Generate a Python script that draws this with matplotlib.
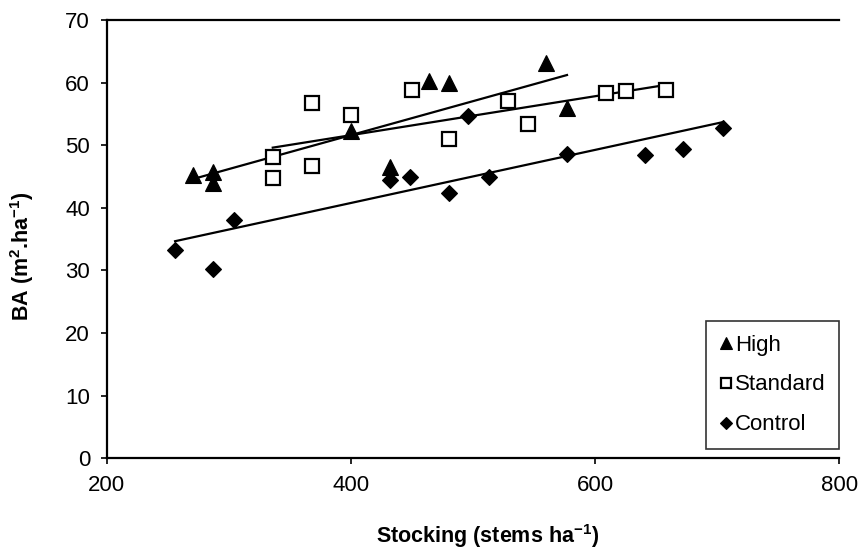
import numpy as np
import matplotlib
matplotlib.use("Agg")
import matplotlib.pyplot as plt

plt.rcParams["font.family"] = ["Liberation Sans", "DejaVu Sans"]
plt.rcParams["mathtext.fontset"] = "custom"
plt.rcParams["mathtext.rm"] = "Liberation Sans"
plt.rcParams["mathtext.bf"] = "Liberation Sans:bold"

# Basal area vs stocking for three thinning treatments
high_x = [271, 287, 287, 400, 432, 464, 480, 560, 577]
high_y = [45.3, 45.7, 44.0, 52.3, 46.6, 60.2, 60.0, 63.1, 55.9]

standard_x = [336, 336, 368, 368, 400, 450, 480, 529, 545, 609, 625, 658]
standard_y = [48.2, 44.8, 56.8, 46.7, 54.8, 58.9, 51.0, 57.0, 53.4, 58.3, 58.6, 58.9]

control_x = [256, 287, 304, 432, 448, 480, 496, 513, 577, 641, 672, 705]
control_y = [33.2, 30.2, 38.1, 44.5, 45.0, 42.4, 54.6, 45.0, 48.6, 48.5, 49.4, 52.7]

x_ticks = [200, 400, 600, 800]
y_ticks = [0, 10, 20, 30, 40, 50, 60, 70]

fig = plt.figure(figsize=(8.64, 5.54), dpi=100)
ax = fig.add_axes([0.1235, 0.1727, 0.8479, 0.7912])

series = [
    ("High", high_x, high_y, dict(marker="^", markersize=11.5, markerfacecolor="black",
                                   markeredgecolor="black", markeredgewidth=0.8)),
    ("Standard", standard_x, standard_y, dict(marker="s", markersize=10, markerfacecolor="white",
                                               markeredgecolor="black", markeredgewidth=1.6)),
    ("Control", control_x, control_y, dict(marker="D", markersize=8.5, markerfacecolor="black",
                                            markeredgecolor="black", markeredgewidth=0.8)),
]

handles = []
for name, xs, ys, style in series:
    xs = np.asarray(xs, dtype=float)
    ys = np.asarray(ys, dtype=float)
    # least-squares trend line over the observed stocking range
    slope, intercept = np.polyfit(xs, ys, 1)
    xl = np.array([xs.min(), xs.max()])
    ax.plot(xl, slope * xl + intercept, color="black", linewidth=1.6, zorder=2)
    h, = ax.plot(xs, ys, linestyle="none", zorder=3, label=name, **style)
    handles.append(h)

ax.set_xlim(200, 800)
ax.set_ylim(0, 70)
ax.set_xticks(x_ticks)
ax.set_yticks(y_ticks)
ax.tick_params(axis="both", direction="out", length=4, width=1.2, labelsize=16, pad=8)
ax.spines["right"].set_visible(False)
for s in ("left", "bottom", "top"):
    ax.spines[s].set_linewidth(1.6)

ax.set_xlabel(r"Stocking (stems ha$^{\mathbf{-1}}$)", fontsize=15.5, fontweight="bold")
ax.set_ylabel(r"BA (m$^{\mathbf{2}}$.ha$^{\mathbf{-1}}$)", fontsize=15.5, fontweight="bold")
ax.xaxis.set_label_coords(0.52, -0.145)
ax.yaxis.set_label_coords(-0.097, 0.46)

leg = ax.legend(handles=handles, loc="lower right", bbox_to_anchor=(1.0, 0.022),
                fontsize=16, frameon=True, fancybox=False, handlelength=0.6,
                handletextpad=0.1, labelspacing=0.85, borderpad=0.6, markerscale=0.75,
                borderaxespad=0.0)
leg.get_frame().set_edgecolor("black")
leg.get_frame().set_linewidth(1.2)

fig.savefig("out.png", dpi=100)
